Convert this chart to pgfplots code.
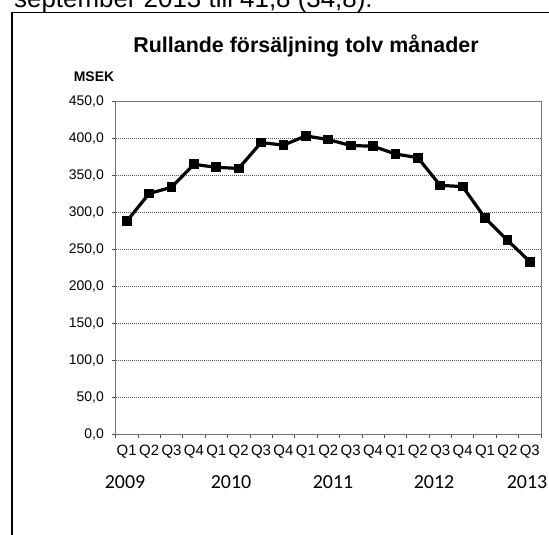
\documentclass[border=0pt]{standalone}
\usepackage{pgfplots}
\pgfplotsset{compat=1.18}
\usepackage{fontspec}
\setmainfont{Liberation Sans}
\newfontfamily\calibri{Carlito}
\begin{document}
\begin{tikzpicture}[x=1bp,y=1bp]
\useasboundingbox (0,0) rectangle (549,535);
\clip (0,0) rectangle (549,535);
\node[anchor=base west, inner sep=0, font=\fontsize{26}{28}\selectfont] at (14,527.5) {september 2013 till 41,8 (34,8).};
\draw[line width=1.6bp] (12,-20) -- (12,522.3) -- (560,522.3);
\node[font=\bfseries\fontsize{21.5}{24}\selectfont, anchor=base, inner sep=0] at (306,482.5) {Rullande försäljning tolv månader};
\node[font=\bfseries\fontsize{14}{15}\selectfont, anchor=base, inner sep=0] at (94,453) {MSEK};
\begin{axis}[at={(115.5bp,100.7bp)}, anchor=south west, scale only axis,
  width=425.5bp, height=332.8bp,
  xmin=-0.5, xmax=18.5, ymin=0, ymax=450,
  ytick={0,50,...,450},
  xtick={-0.5,0.5,...,18.5},
  x tick label as interval,
  xticklabels={Q1,Q2,Q3,Q4,Q1,Q2,Q3,Q4,Q1,Q2,Q3,Q4,Q1,Q2,Q3,Q4,Q1,Q2,Q3},
  yticklabel={\pgfmathprintnumber[fixed,fixed zerofill,precision=1,use comma,assume math mode=true]{\tick}},
  tick align=outside, major tick length=4bp,
  xtick pos=bottom, ytick pos=left,
  tick style={black!70, line width=0.7bp},
  axis line style={black!55, line width=0.8bp},
  ymajorgrids=true,
  major grid style={dash pattern=on 1.2bp off 0.8bp, black!65, line width=0.6bp},
  yticklabel style={font=\fontsize{14}{15}\selectfont, inner sep=0pt, xshift=-7.5bp},
  xticklabel style={font=\fontsize{15}{16}\selectfont, inner sep=0pt, yshift=-7bp},
  clip=false,
]
\addplot[black, line width=3.2bp, mark=square*, mark size=3.3bp, mark options={solid}]
  coordinates {(0,288) (1,325.5) (2,334) (3,365) (4,361) (5,359.5) (6,394.5) (7,391)
    (8,403.5) (9,398.5) (10,390.5) (11,389.5) (12,379) (13,374) (14,336.5) (15,335)
    (16,292.5) (17,262.5) (18,233.5)};
\end{axis}
\begin{scope}[every node/.style={font=\calibri\fontsize{20}{22}\selectfont, anchor=base, inner sep=0}]
\node at (125,46) {2009};
\node at (231,46) {2010};
\node at (333,46) {2011};
\node at (434,46) {2012};
\node at (527,46) {2013};
\end{scope}
\end{tikzpicture}
\end{document}
